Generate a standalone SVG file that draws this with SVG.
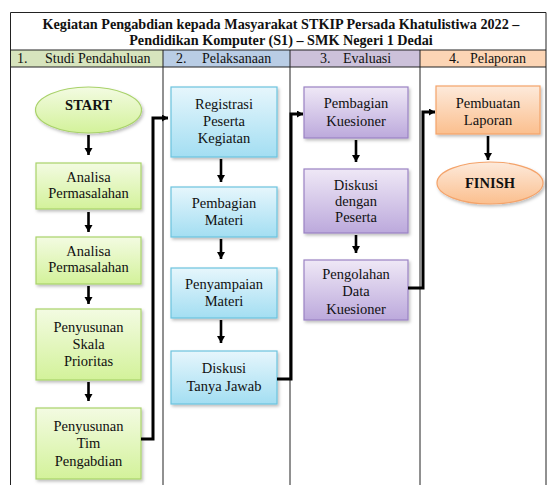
<svg xmlns="http://www.w3.org/2000/svg" width="548" height="485" viewBox="0 0 548 485">
<style>
.t{font-family:'Liberation Serif','Times New Roman',serif;font-size:14.5px;fill:#111;text-anchor:middle}
.b{font-weight:bold}
.h{font-family:'Liberation Serif','Times New Roman',serif;font-size:14px;fill:#111}
.tl{font-family:'Liberation Serif','Times New Roman',serif;font-size:14.2px;font-weight:bold;fill:#111;text-anchor:middle}
.grid{stroke:#222;stroke-width:1;fill:none}
.g{fill:url(#gG);stroke:#a9d26a;stroke-width:1.2;filter:url(#sh)}
.bl{fill:url(#gB);stroke:#6cc3de;stroke-width:1.2;filter:url(#sh)}
.p{fill:url(#gP);stroke:#9a82c4;stroke-width:1.2;filter:url(#sh)}
.o{fill:url(#gO);stroke:#f4a36a;stroke-width:1.2;filter:url(#sh)}
.ar{stroke:#000;stroke-width:2.6;fill:none;marker-end:url(#ah)}
.cn{stroke:#000;stroke-width:3;fill:none;marker-end:url(#ah2)}
</style>
<defs>
<linearGradient id="gG" x1="0" y1="0" x2="0" y2="1"><stop offset="0" stop-color="#f3fbe2"/><stop offset="1" stop-color="#d3f29a"/></linearGradient>
<linearGradient id="gB" x1="0" y1="0" x2="0" y2="1"><stop offset="0" stop-color="#e6f6fc"/><stop offset="1" stop-color="#a3def2"/></linearGradient>
<linearGradient id="gP" x1="0" y1="0" x2="0" y2="1"><stop offset="0" stop-color="#efe8f6"/><stop offset="1" stop-color="#bca9dc"/></linearGradient>
<linearGradient id="gO" x1="0" y1="0" x2="0" y2="1"><stop offset="0" stop-color="#fdeadb"/><stop offset="1" stop-color="#fbbf8e"/></linearGradient>
<filter id="sh" x="-10%" y="-10%" width="125%" height="130%"><feDropShadow dx="1.5" dy="2" stdDeviation="1.5" flood-color="#000" flood-opacity="0.25"/></filter>
<marker id="ah" markerUnits="userSpaceOnUse" markerWidth="10" markerHeight="10" refX="7" refY="4" orient="auto"><path d="M0,0 L7,4 L0,8 Z" fill="#000"/></marker>
<marker id="ah2" markerUnits="userSpaceOnUse" markerWidth="10" markerHeight="10" refX="6" refY="3.5" orient="auto"><path d="M0,0 L6,3.5 L0,7 Z" fill="#000"/></marker>
</defs>
<rect width="548" height="485" fill="#fff"/>
<g id="table">
<rect x="10.5" y="50" width="152.5" height="17" fill="#d7e4bd"/>
<rect x="163" y="50" width="127" height="17" fill="#b9cde5"/>
<rect x="290" y="50" width="130" height="17" fill="#ccc1da"/>
<rect x="420" y="50" width="126" height="17" fill="#fcd5b5"/>
<path class="grid" d="M10.5,490 V12.5 H546 V490 M10.5,50 H546 M10.5,67 H546 M163,50 V490 M290,50 V490 M420,50 V490"/>
<text class="tl" x="281" y="29">Kegiatan Pengabdian kepada Masyarakat STKIP Persada Khatulistiwa 2022 –</text>
<text class="tl" x="281" y="45">Pendidikan Komputer (S1) – SMK Negeri 1 Dedai</text>
<text class="h" x="17" y="63">1.</text><text class="h" x="45" y="63">Studi Pendahuluan</text>
<text class="h" x="176" y="63">2.</text><text class="h" x="202" y="63">Pelaksanaan</text>
<text class="h" x="320" y="63">3.</text><text class="h" x="343" y="63">Evaluasi</text>
<text class="h" x="449" y="63">4.</text><text class="h" x="470" y="63">Pelaporan</text>
</g>
<g id="start"><ellipse class="g" cx="88.5" cy="110" rx="53" ry="23"/><text class="t b" x="88.5" y="110">START</text></g>
<g id="n1"><rect class="g" x="36" y="163" width="105" height="46"/><text class="t" x="88.5" y="182">Analisa</text><text class="t" x="88.5" y="198">Permasalahan</text></g>
<g id="n2"><rect class="g" x="36" y="237" width="105" height="47"/><text class="t" x="88.5" y="256">Analisa</text><text class="t" x="88.5" y="272">Permasalahan</text></g>
<g id="n3"><rect class="g" x="36" y="309" width="105" height="71"/><text class="t" x="88.5" y="332">Penyusunan</text><text class="t" x="88.5" y="349">Skala</text><text class="t" x="88.5" y="366">Prioritas</text></g>
<g id="n4"><rect class="g" x="36" y="408" width="105" height="71"/><text class="t" x="88.5" y="431">Penyusunan</text><text class="t" x="88.5" y="448">Tim</text><text class="t" x="88.5" y="466">Pengabdian</text></g>
<g id="m1"><rect class="bl" x="171" y="87" width="106" height="70"/><text class="t" x="224" y="109">Registrasi</text><text class="t" x="224" y="126">Peserta</text><text class="t" x="224" y="143">Kegiatan</text></g>
<g id="m2"><rect class="bl" x="171" y="187" width="106" height="50"/><text class="t" x="224" y="208">Pembagian</text><text class="t" x="224" y="225">Materi</text></g>
<g id="m3"><rect class="bl" x="171" y="268" width="106" height="50"/><text class="t" x="224" y="289">Penyampaian</text><text class="t" x="224" y="306">Materi</text></g>
<g id="m4"><rect class="bl" x="171" y="351" width="106" height="53"/><text class="t" x="224" y="373">Diskusi</text><text class="t" x="224" y="391">Tanya Jawab</text></g>
<g id="e1"><rect class="p" x="304" y="87" width="104" height="51"/><text class="t" x="356" y="108">Pembagian</text><text class="t" x="356" y="126">Kuesioner</text></g>
<g id="e2"><rect class="p" x="304" y="169" width="104" height="64"/><text class="t" x="356" y="190">Diskusi</text><text class="t" x="356" y="206">dengan</text><text class="t" x="356" y="222">Peserta</text></g>
<g id="e3"><rect class="p" x="304" y="260" width="104" height="60"/><text class="t" x="356" y="279">Pengolahan</text><text class="t" x="356" y="296">Data</text><text class="t" x="356" y="314">Kuesioner</text></g>
<g id="r1"><rect class="o" x="436" y="86" width="104" height="48"/><text class="t" x="488" y="108">Pembuatan</text><text class="t" x="488" y="125">Laporan</text></g>
<g id="finish"><ellipse class="o" cx="490" cy="183" rx="53" ry="21"/><text class="t b" x="490" y="188">FINISH</text></g>
<g id="connectors">
<path class="ar" d="M88.5,135 V155"/>
<path class="ar" d="M88.5,212 V232"/>
<path class="ar" d="M88.5,286 V304"/>
<path class="ar" d="M88.5,382 V401"/>
<path class="ar" d="M221,159 V182"/>
<path class="ar" d="M221,239 V259"/>
<path class="ar" d="M221,320 V343"/>
<path class="ar" d="M356,140 V162"/>
<path class="ar" d="M356,235 V253"/>
<path class="ar" d="M488,136 V160"/>
<path class="cn" d="M141,439 H153 V118 H168"/>
<path class="cn" d="M277,379 H291 V114 H303"/>
<path class="cn" d="M408,288 H423 V112 H435"/>
</g>
</svg>
